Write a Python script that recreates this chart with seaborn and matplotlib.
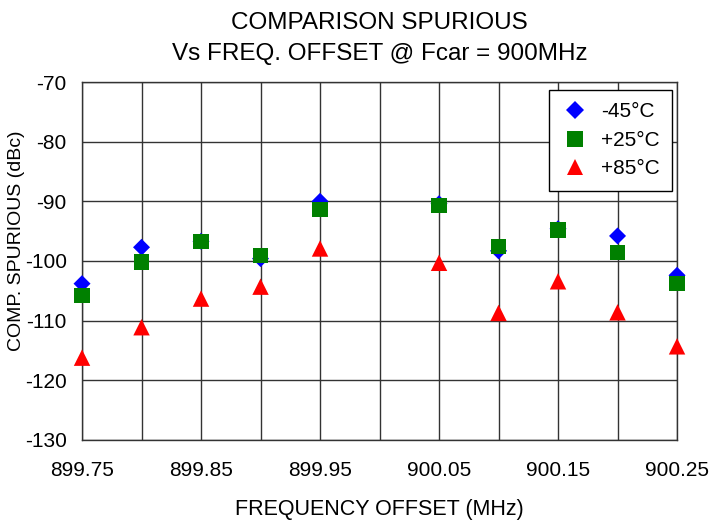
import matplotlib
matplotlib.use('Agg')

import numpy as np
import pandas as pd
import matplotlib.pyplot as plt
import seaborn as sns
from matplotlib.ticker import MultipleLocator, FixedLocator, FormatStrFormatter

# --------------------------------------------------
# Data
# --------------------------------------------------
freq = [899.75, 899.80, 899.85, 899.90, 899.95, 900.05, 900.10, 900.15, 900.20, 900.25]

spur_m45 = [-103.8, -97.7, -96.7, -99.6, -90.0, -90.4, -98.3, -94.6, -95.8, -102.4]
spur_p25 = [-105.8, -100.2, -96.7, -99.1, -91.4, -90.7, -97.6, -94.8, -98.6, -103.8]
spur_p85 = [-116.2, -111.1, -106.3, -104.3, -97.9, -100.3, -108.7, -103.4, -108.6, -114.3]

x_ticks = [899.75, 899.85, 899.95, 900.05, 900.15, 900.25]

series = ['-45°C', '+25°C', '+85°C']
colors = {'-45°C': '#0000FF', '+25°C': '#008000', '+85°C': '#FF0000'}
markers = {'-45°C': 'D', '+25°C': 's', '+85°C': '^'}
sizes = {'-45°C': 75, '+25°C': 125, '+85°C': 140}

data = pd.DataFrame({
    'freq': freq * 3,
    'spur': spur_m45 + spur_p25 + spur_p85,
    'temp': [s for s in series for _ in freq],
})

# --------------------------------------------------
# Plot
# --------------------------------------------------
sns.set_style('white')
plt.rcParams['font.family'] = ['Liberation Sans', 'DejaVu Sans']
plt.rcParams['axes.unicode_minus'] = False
plt.rcParams['text.color'] = 'black'
plt.rcParams['axes.labelcolor'] = 'black'
plt.rcParams['xtick.color'] = 'black'
plt.rcParams['ytick.color'] = 'black'

fig = plt.figure(figsize=(7.12, 5.22), dpi=100)
ax = fig.add_axes([0.1152, 0.1571, 0.8357, 0.6858])

sns.scatterplot(
    data=data,
    x='freq',
    y='spur',
    hue='temp',
    style='temp',
    size='temp',
    hue_order=series,
    style_order=series,
    size_order=series,
    palette=colors,
    markers=markers,
    sizes=sizes,
    linewidth=0,
    zorder=3,
    clip_on=False,
    ax=ax
)

ax.set_xlim(899.75, 900.25)
ax.set_ylim(-130, -70)
ax.xaxis.set_major_locator(FixedLocator(x_ticks))
ax.xaxis.set_minor_locator(MultipleLocator(0.05))
ax.xaxis.set_major_formatter(FormatStrFormatter('%.2f'))
ax.yaxis.set_major_locator(MultipleLocator(10))

ax.grid(True, which='both', color='#333333', linewidth=1.0)
for sp in ax.spines.values():
    sp.set_color('#333333')
    sp.set_linewidth(1.0)

ax.tick_params(axis='both', which='major', labelsize=15, direction='out',
               length=5, width=1, color='black')
ax.tick_params(axis='x', which='major', pad=10)
ax.tick_params(axis='y', which='major', pad=6)
ax.tick_params(axis='x', which='minor', length=0)

ax.set_xlabel('FREQUENCY OFFSET (MHz)', fontsize=15.5, labelpad=14)
ax.set_ylabel('COMP. SPURIOUS (dBc)', fontsize=14)
ax.yaxis.set_label_coords(-0.096, 0.556)
ax.set_title('COMPARISON SPURIOUS\nVs FREQ. OFFSET @ Fcar = 900MHz',
             fontsize=17.5, pad=16, linespacing=1.5)

leg = ax.legend(loc='upper right', fontsize=15, frameon=True, fancybox=False,
                borderpad=0.6, labelspacing=0.45, handletextpad=0.6,
                handlelength=1.3, borderaxespad=0,
                bbox_to_anchor=(0.9916, 0.9777))
leg.get_frame().set_edgecolor('black')
leg.get_frame().set_linewidth(1.0)
leg.get_frame().set_alpha(1)
for h, ms in zip(leg.legend_handles, [9, 11, 12]):
    h.set_markersize(ms)

fig.savefig('out.png', dpi=100)
plt.close(fig)
